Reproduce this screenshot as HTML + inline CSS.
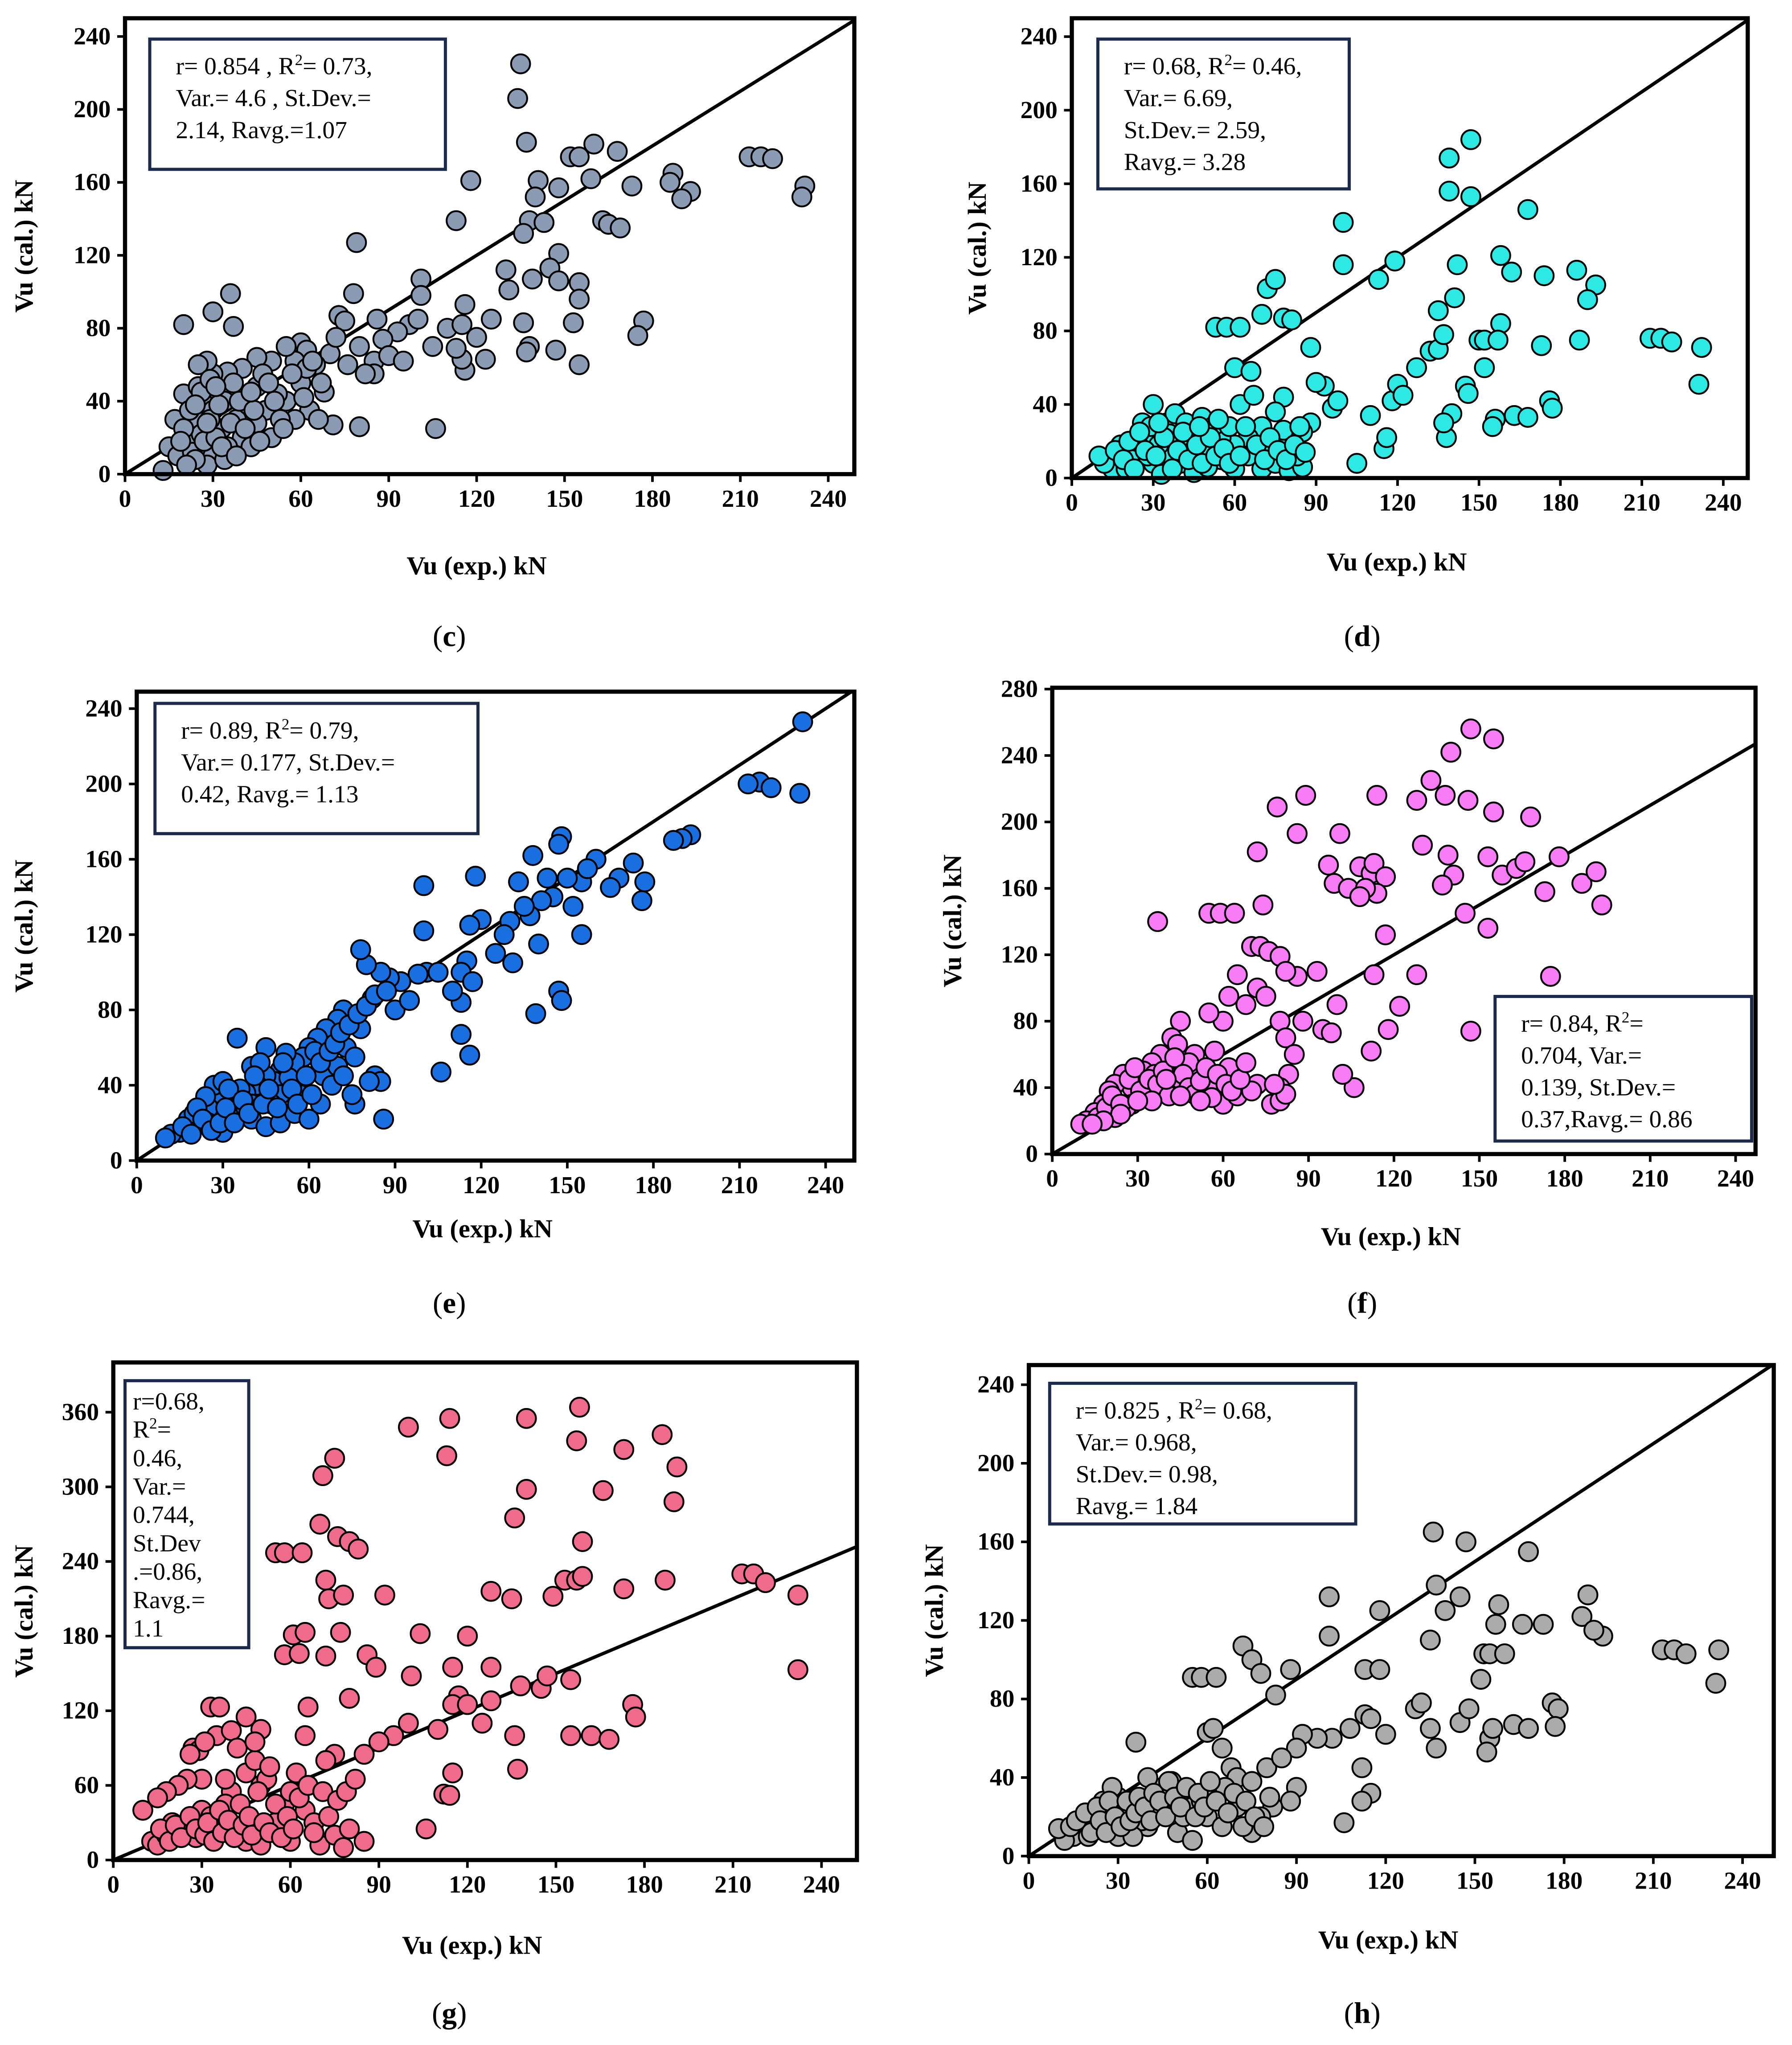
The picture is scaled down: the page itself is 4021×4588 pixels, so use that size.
<!DOCTYPE html>
<html><head><meta charset="utf-8"><style>
html,body{margin:0;padding:0;background:#fff;}
svg{display:block;}
</style></head><body>
<svg id="fig" xmlns="http://www.w3.org/2000/svg" width="4021" height="4588" viewBox="0 0 1376 1570"></svg>
<script>
const cPts=[[135,225],[134,206],[137,182],[160,181],[168,177],[152,174],[155,174],[213,174],[217,174],[221,173],[159,162],[141,161],[118,161],[187,165],[186,160],[232,158],[193,155],[190,151],[231,152],[148,157],[140,152],[173,158],[163,139],[165,137],[169,135],[113,139],[138,139],[136,132],[143,138],[148,121],[145,113],[148,106],[155,105],[130,112],[131,101],[155,96],[139,107],[116,93],[101,107],[101,98],[79,127],[78,99],[177,84],[175,76],[153,83],[136,83],[138,70],[137,67],[147,68],[155,60],[116,57],[115,63],[123,63],[113,69],[106,25],[80,26],[71,27],[36,99],[30,89],[20,82],[37,81],[60,72],[62,68],[73,87],[75,84],[86,85],[97,82],[100,85],[93,78],[88,74],[85,62],[85,55],[80,70],[70,66],[65,60],[58,62],[55,70],[50,62],[45,64],[40,58],[35,56],[30,55],[28,62],[25,60],[20,44],[17,30],[15,15],[13,2],[18,10],[22,20],[25,30],[27,40],[30,35],[33,25],[35,45],[38,30],[42,38],[45,48],[48,35],[50,20],[55,40],[60,50],[63,35],[66,30],[40,20],[30,10],[28,5],[35,15],[45,28],[52,44],[110,80],[120,75],[125,85],[105,70],[90,65],[95,62],[115,82],[58,30],[25,48],[32,45],[23,12],[26,22],[29,30],[34,40],[43,15],[47,55],[53,30],[62,58],[68,45],[72,75],[76,60],[82,55],[20,25],[22,35],[24,8],[26,45],[27,18],[29,52],[31,20],[32,38],[34,8],[36,28],[37,50],[39,40],[41,25],[44,35],[46,18],[49,50],[51,40],[54,25],[57,55],[61,42],[64,62],[67,50],[19,18],[21,5],[24,38],[28,28],[31,48],[33,15],[38,10],[43,45]];
const dPts=[[147,184],[139,174],[147,153],[139,156],[168,146],[100,139],[100,116],[113,108],[119,118],[158,121],[162,112],[193,105],[186,113],[174,110],[190,97],[141,98],[135,91],[142,116],[72,103],[75,108],[70,89],[78,87],[81,86],[53,82],[57,82],[62,82],[60,60],[66,58],[88,71],[127,60],[132,69],[135,70],[137,78],[150,75],[152,75],[158,84],[157,75],[213,76],[217,76],[221,74],[232,71],[187,75],[173,72],[231,51],[152,60],[145,50],[146,46],[156,32],[163,34],[168,33],[176,42],[177,38],[105,8],[110,34],[115,16],[116,22],[118,42],[120,51],[122,45],[96,38],[98,42],[93,50],[90,52],[88,30],[85,25],[80,20],[78,44],[75,36],[70,28],[65,22],[60,18],[55,10],[50,15],[45,25],[40,20],[35,30],[30,40],[28,25],[25,15],[22,10],[18,18],[15,5],[12,8],[10,12],[20,5],[30,8],[35,12],[40,8],[45,3],[50,6],[55,22],[60,5],[65,12],[70,5],[75,8],[80,4],[85,6],[38,35],[42,30],[48,33],[52,28],[62,40],[67,45],[30,20],[26,30],[33,2],[140,35],[138,22],[137,30],[155,28],[24,20],[28,12],[32,18],[36,24],[44,14],[58,28],[72,14],[78,26],[83,12],[16,15],[19,10],[21,20],[23,5],[27,15],[29,28],[31,12],[34,22],[37,5],[39,15],[41,25],[43,10],[46,18],[48,8],[51,22],[53,12],[56,16],[58,8],[62,12],[64,28],[68,18],[71,10],[73,22],[76,15],[79,10],[82,18],[84,28],[86,14],[47,28],[54,32],[25,25],[32,30]];
const ePts=[[232,233],[217,201],[213,200],[221,198],[231,195],[193,173],[190,171],[187,170],[173,158],[177,148],[176,138],[168,150],[160,160],[155,148],[150,150],[148,172],[147,168],[145,140],[141,138],[137,130],[133,148],[138,162],[152,135],[155,120],[140,115],[139,78],[147,90],[148,85],[130,127],[131,105],[120,128],[118,151],[116,125],[115,106],[113,100],[117,95],[113,84],[113,67],[116,56],[106,47],[100,146],[100,122],[101,100],[98,99],[92,95],[88,97],[85,100],[80,104],[78,112],[82,86],[83,45],[85,42],[86,22],[76,30],[75,35],[72,80],[70,75],[66,70],[63,65],[60,60],[58,55],[55,52],[52,57],[50,48],[48,42],[45,45],[42,40],[40,50],[38,36],[36,38],[35,65],[33,30],[30,33],[28,25],[25,28],[22,20],[20,18],[18,22],[15,15],[12,14],[10,12],[27,40],[30,42],[35,25],[40,22],[45,18],[50,20],[55,25],[60,22],[62,58],[65,45],[70,50],[68,40],[45,60],[50,35],[55,42],[40,30],[30,15],[25,20],[20,25],[90,80],[95,85],[105,100],[110,90],[125,110],[128,120],[135,135],[143,150],[157,155],[165,145],[24,34],[32,38],[38,28],[43,52],[47,30],[53,44],[57,35],[64,30],[73,60],[78,70],[16,18],[19,14],[21,28],[23,22],[26,16],[29,20],[31,28],[34,20],[37,32],[39,25],[41,45],[44,30],[46,38],[49,28],[51,52],[54,38],[56,30],[59,45],[61,35],[64,52],[67,58],[69,62],[71,68],[74,72],[77,78],[80,82],[83,88],[87,90],[72,45],[76,55],[81,42]];
const fPts=[[147,256],[155,250],[140,242],[133,225],[128,213],[138,216],[146,213],[155,206],[168,203],[178,179],[114,216],[89,216],[101,193],[79,209],[86,193],[97,174],[99,163],[104,160],[108,173],[112,169],[113,175],[117,167],[114,157],[110,160],[108,155],[117,132],[130,186],[139,180],[141,168],[153,179],[158,168],[163,172],[166,176],[173,158],[186,163],[191,170],[193,150],[137,162],[153,136],[145,145],[175,107],[147,74],[113,108],[118,75],[122,89],[128,108],[112,62],[106,40],[102,48],[95,75],[98,73],[100,90],[86,107],[93,110],[72,182],[37,140],[55,145],[59,145],[64,145],[74,150],[70,125],[73,125],[76,122],[80,119],[82,110],[65,108],[62,95],[68,90],[72,100],[75,95],[80,80],[82,70],[88,80],[85,60],[83,48],[80,40],[77,30],[72,42],[60,80],[55,85],[50,60],[45,80],[42,70],[40,55],[38,60],[35,55],[32,50],[30,45],[28,40],[25,48],[22,42],[20,38],[18,30],[15,25],[12,20],[10,18],[28,30],[33,35],[40,38],[45,45],[50,50],[55,40],[60,30],[65,35],[70,38],[62,52],[57,62],[48,55],[44,66],[36,48],[26,28],[22,22],[16,22],[19,28],[21,35],[24,30],[27,45],[29,52],[31,38],[34,45],[37,42],[39,50],[41,35],[43,58],[46,48],[48,40],[50,36],[52,44],[54,52],[56,34],[58,48],[61,42],[63,38],[66,45],[68,55],[40,45],[35,32],[30,32],[24,24],[18,20],[14,18],[45,35],[52,32],[80,32],[82,36],[78,42]];
const gPts=[[158,364],[114,355],[100,348],[140,355],[186,342],[136,275],[157,337],[173,330],[191,316],[113,325],[75,323],[71,309],[140,298],[166,297],[190,288],[159,256],[76,260],[80,256],[83,250],[70,270],[55,247],[58,247],[64,247],[72,225],[73,210],[78,213],[92,213],[128,216],[135,210],[149,212],[153,225],[157,225],[159,228],[173,218],[187,225],[213,230],[217,230],[221,223],[232,213],[232,153],[101,148],[104,182],[120,180],[61,181],[58,165],[63,166],[65,183],[72,164],[77,183],[86,165],[89,155],[115,155],[128,155],[117,132],[115,125],[120,125],[128,128],[138,140],[145,138],[147,148],[155,145],[155,100],[162,100],[168,97],[176,125],[177,115],[136,100],[137,73],[112,53],[115,70],[114,52],[106,25],[125,110],[110,105],[100,110],[95,100],[90,95],[85,85],[80,130],[66,123],[33,123],[36,123],[35,100],[40,104],[45,115],[50,105],[50,60],[45,70],[40,55],[35,30],[30,65],[27,90],[25,65],[22,60],[18,55],[15,50],[10,40],[13,15],[15,12],[18,20],[20,30],[25,22],[28,18],[30,40],[35,20],[40,25],[45,15],[50,12],[55,30],[58,45],[60,55],[62,70],[65,40],[68,30],[70,12],[75,20],[78,10],[80,25],[85,15],[60,15],[65,100],[75,85],[42,90],[48,80],[52,65],[38,45],[33,35],[16,25],[19,15],[21,28],[23,18],[26,35],[28,25],[29,88],[31,20],[32,30],[34,15],[36,40],[37,22],[39,32],[41,18],[43,45],[44,28],[46,35],[47,20],[49,55],[51,30],[53,22],[55,45],[57,18],[59,35],[61,25],[63,50],[66,60],[68,22],[71,55],[73,35],[76,48],[79,55],[82,65],[72,80],[26,85],[31,95],[38,65],[48,95],[53,75]];
const hPts=[[136,165],[147,160],[168,155],[101,132],[101,112],[118,125],[113,95],[118,95],[137,138],[145,132],[140,125],[158,128],[157,118],[186,122],[188,133],[193,112],[190,115],[173,118],[166,118],[55,91],[58,91],[63,91],[72,107],[75,100],[78,93],[83,82],[88,95],[213,105],[217,105],[221,103],[232,105],[231,88],[153,103],[155,103],[160,103],[135,110],[130,75],[132,78],[113,72],[115,70],[120,62],[108,65],[102,60],[97,60],[92,62],[90,55],[135,65],[145,68],[148,75],[155,60],[156,65],[163,67],[168,65],[176,78],[178,75],[177,66],[152,90],[137,55],[154,53],[112,45],[115,32],[112,28],[106,17],[60,63],[62,65],[65,55],[68,45],[70,40],[75,38],[80,45],[85,50],[90,35],[88,28],[82,25],[78,20],[75,12],[72,15],[70,25],[66,35],[60,30],[55,25],[50,30],[45,35],[40,40],[36,58],[35,25],[32,20],[30,30],[28,22],[25,18],[22,15],[20,20],[18,12],[15,10],[12,8],[10,14],[30,10],[40,15],[50,12],[55,8],[60,20],[65,15],[45,22],[38,18],[25,28],[28,35],[48,38],[52,20],[58,28],[20,10],[35,10],[14,15],[16,18],[19,22],[21,12],[23,25],[24,18],[26,12],[27,28],[29,20],[31,15],[33,28],[34,18],[36,22],[37,30],[39,25],[41,18],[42,32],[44,28],[46,20],[47,38],[49,30],[51,25],[53,35],[56,20],[57,32],[59,25],[61,38],[63,28],[67,22],[69,32],[73,28],[76,20],[79,15],[81,30]];
const xTicks=[0,30,60,90,120,150,180,210,240];
const yTicks240=[0,40,80,120,160,200,240];
const yTicks280=[0,40,80,120,160,200,240,280];
const yTicks360=[0,60,120,180,240,300,360];

const panels=[
 {id:'c',pts:cPts,col:'#8a9bb3',L:96,R:656,T:14,B:364,xmax:248.9,ymax:250,yt:yTicks240,cap:[345,488],ytx:18,xty:71,
  box:[115,30,227,100],lines:[['r= 0.854 , R','2','= 0.73,'],['Var.= 4.6 , St.Dev.='],['2.14, Ravg.=1.07']]},
 {id:'d',pts:dPts,col:'#2ee8e4',L:823,R:1342,T:14,B:367,xmax:249,ymax:250,yt:yTicks240,cap:[1046,488],ytx:750,xty:65,
  box:[843,30,193,115],lines:[['r= 0.68, R','2','= 0.46,'],['Var.= 6.69,'],['St.Dev.= 2.59,'],['Ravg.= 3.28']]},
 {id:'e',pts:ePts,col:'#1a6fe0',L:105,R:656,T:531,B:891,xmax:250,ymax:249,yt:yTicks240,cap:[345,1000],ytx:18,xty:53,
  box:[119,540,248,100],lines:[['r= 0.89, R','2','= 0.79,'],['Var.= 0.177, St.Dev.='],['0.42, Ravg.= 1.13']]},
 {id:'f',pts:fPts,col:'#f77cf5',L:808,R:1348,T:528,B:886,xmax:247,ymax:280.8,yt:yTicks280,cap:[1046,1000],ytx:731,xty:64,
  box:[1148,765,197,111],lines:[['r= 0.84, R','2','='],['0.704, Var.='],['0.139, St.Dev.='],['0.37,Ravg.= 0.86']]},
 {id:'g',pts:gPts,col:'#f06a8c',L:87,R:658,T:1046,B:1428,xmax:252,ymax:400,yt:yTicks360,cap:[345,1545],ytx:18,xty:66,
  box:[96,1060,95,205],lines:[['r=0.68,'],['R','2','='],['0.46,'],['Var.='],['0.744,'],['St.Dev'],['.=0.86,'],['Ravg.='],['1.1']]},
 {id:'h',pts:hPts,col:'#ababab',L:790,R:1362,T:1048,B:1425,xmax:250.5,ymax:250,yt:yTicks240,cap:[1046,1545],ytx:717,xty:65,
  box:[806,1062,235,108],lines:[['r= 0.825 , R','2','= 0.68,'],['Var.= 0.968,'],['St.Dev.= 0.98,'],['Ravg.= 1.84']]}
];
const NS='http://www.w3.org/2000/svg';
const svg=document.getElementById('fig');
function mk(tag,attrs,parent){const e=document.createElementNS(NS,tag);for(const k in attrs)e.setAttribute(k,attrs[k]);(parent||svg).appendChild(e);return e;}
panels.forEach(p=>{
  const g=mk('g',{});
  
  
  const sx=v=>p.L+v/p.xmax*(p.R-p.L);
  const sy=v=>p.B-v/p.ymax*(p.B-p.T);
  const m=Math.min(p.xmax,p.ymax);
  const dl=mk('line',{x1:sx(0),y1:sy(0),x2:sx(m),y2:sy(m),stroke:'#000','stroke-width':2.6},g);
  
  
  p.pts.forEach(d=>{
    const c=mk('circle',{cx:sx(d[0]),cy:sy(d[1]),r:7.3,fill:p.col,stroke:'#000','stroke-width':1.4},g);
    
    
  });
  const fr=mk('rect',{x:p.L,y:p.T,width:p.R-p.L,height:p.B-p.T,fill:'none',stroke:'#000','stroke-width':3.2},g);
  
  
  xTicks.forEach(t=>{
    mk('line',{x1:sx(t),y1:p.B,x2:sx(t),y2:p.B+6,stroke:'#000','stroke-width':2},g);
    const tx=mk('text',{x:sx(t),y:p.B+25,'text-anchor':'middle','font-family':'Liberation Serif, serif','font-weight':'bold','font-size':19},g);
    tx.textContent=t;
    
    
  });
  p.yt.forEach(t=>{
    mk('line',{x1:p.L-6,y1:sy(t),x2:p.L,y2:sy(t),stroke:'#000','stroke-width':2},g);
    const tx=mk('text',{x:p.L-11,y:sy(t)+6,'text-anchor':'end','font-family':'Liberation Serif, serif','font-weight':'bold','font-size':19},g);
    tx.textContent=t;
    
    
  });
  const xt=mk('text',{x:(p.L+p.R)/2-10,y:p.B+p.xty+6,'text-anchor':'middle','font-family':'Liberation Serif, serif','font-weight':'bold','font-size':20},g);
  xt.textContent='Vu (exp.) kN';
  
  
  const cy=(p.T+p.B)/2, cx=p.ytx+7;
  const yt=mk('text',{x:cx,y:cy,'text-anchor':'middle','font-family':'Liberation Serif, serif','font-weight':'bold','font-size':20,transform:'rotate(-90 '+cx+' '+cy+')'},g);
  yt.textContent='Vu (cal.) kN';
  
  
  const b=p.box;
  const br=mk('rect',{x:b[0],y:b[1],width:b[2],height:b[3],fill:'#fff',stroke:'#1c2b4b','stroke-width':2.4},g);
  
  
  const lh=p.id==='g'?21.8:24.5;
  const st=p.id==='g'?22:27;
  p.lines.forEach((ln,i)=>{
    const t=mk('text',{x:b[0]+(p.id==='g'?6:20),y:b[1]+st+i*lh,'font-family':'Liberation Serif, serif','font-size':19},g);
    
    
    t.appendChild(document.createTextNode(ln[0]));
    if(ln.length>1){
      const s=mk('tspan',{'font-size':12,dy:-7},t);s.textContent=ln[1];
      const r=mk('tspan',{dy:7},t);r.textContent=ln[2];
    }
  });
  const cp=mk('text',{x:p.cap[0],y:p.cap[1]+8,'text-anchor':'middle','font-family':'Liberation Serif, serif','font-size':23},g);
  cp.textContent='(';
  const bt=mk('tspan',{'font-weight':'bold'},cp);bt.textContent=p.id;
  const cl=mk('tspan',{},cp);cl.textContent=')';
  
  
});
</script>
</body></html>
